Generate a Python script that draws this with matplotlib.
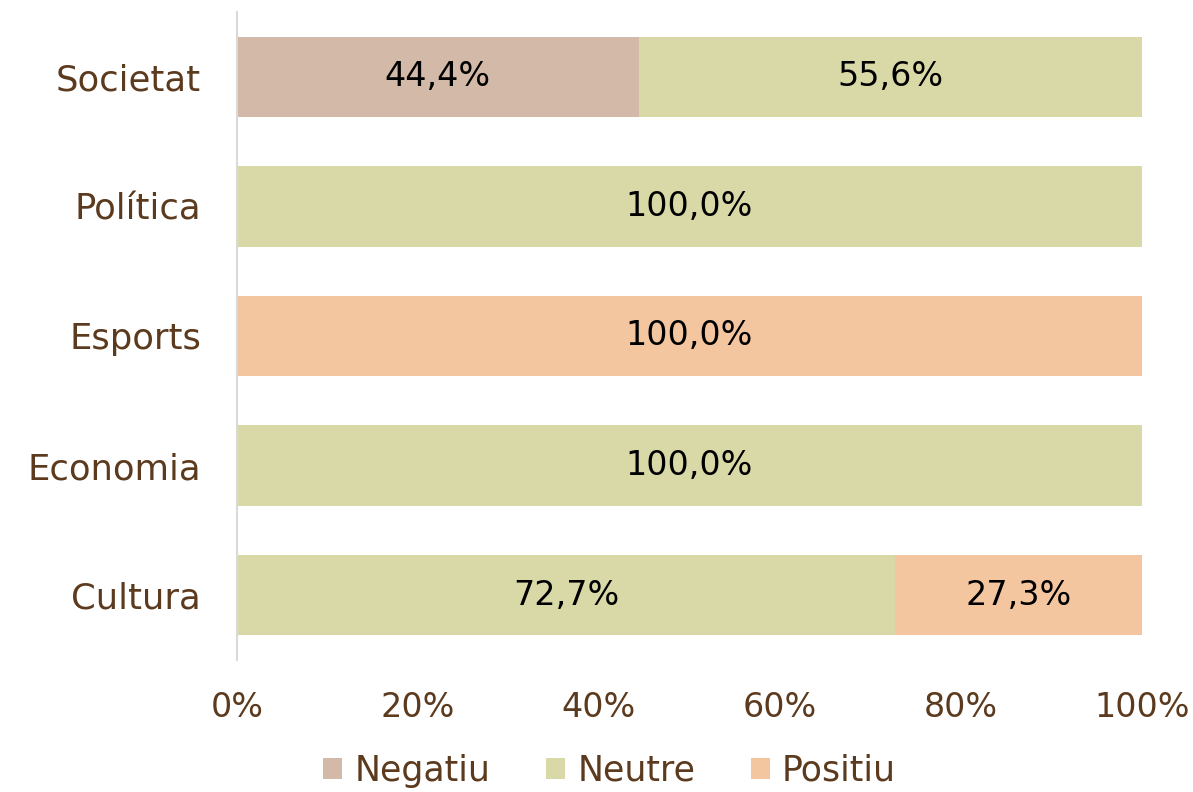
import matplotlib
matplotlib.use('Agg')
import matplotlib.pyplot as plt
import numpy as np

plt.rcParams['font.family'] = ['DejaVu Sans']

categories = ['Cultura', 'Economia', 'Esports', 'Política', 'Societat']
negatiu = [0.0, 0.0, 0.0, 0.0, 44.4]
neutre = [72.7, 100.0, 0.0, 100.0, 55.6]
positiu = [27.3, 0.0, 100.0, 0.0, 0.0]
series_names = ['Negatiu', 'Neutre', 'Positiu']
colors = ['#D3B9A7', '#D9D9A8', '#F4C6A0']
xticks = [0, 20, 40, 60, 80, 100]

brown = '#5C3A1E'

fig = plt.figure(figsize=(11.93, 7.92), dpi=100)
ax = fig.add_axes([0.1987, 0.1667, 0.7583, 0.8182])

y = np.arange(len(categories))
left = np.zeros(len(categories))
for name, vals, col in zip(series_names, [negatiu, neutre, positiu], colors):
    vals = np.array(vals)
    bars = ax.barh(y, vals, left=left, height=0.62, color=col, label=name)
    for b, v, l in zip(bars, vals, left):
        if v > 0:
            ax.text(l + v / 2, b.get_y() + b.get_height() / 2,
                    f'{v:.1f}%'.replace('.', ','), ha='center', va='center',
                    fontsize=24, color='black')
    left = left + vals

ax.set_xlim(0, 100)
ax.set_ylim(-0.5, 4.5)
ax.set_yticks(y)
ax.set_yticklabels(categories)
ax.set_xticks(xticks)
ax.set_xticklabels([f'{t}%' for t in xticks])
ax.tick_params(axis='both', length=0, labelcolor=brown)
ax.tick_params(axis='x', pad=22, labelsize=24)
ax.tick_params(axis='y', pad=26, labelsize=25.5)
for s in ['top', 'right', 'bottom']:
    ax.spines[s].set_visible(False)
ax.spines['left'].set_color('#D9D9D9')
ax.spines['left'].set_linewidth(1.5)

leg = fig.legend(loc='lower center', bbox_to_anchor=(0.511, -0.021), ncol=3, frameon=False,
                 fontsize=25, handlelength=0.55, handleheight=0.55, handletextpad=0.35,
                 columnspacing=1.6, borderpad=0.1)
for t in leg.get_texts():
    t.set_color(brown)

fig.savefig('out.png', dpi=100)
